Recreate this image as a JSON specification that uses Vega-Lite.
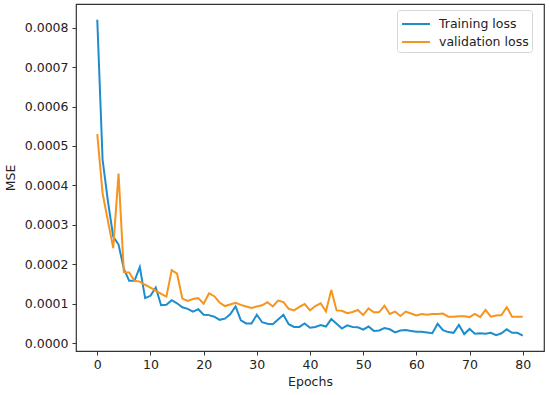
{
  "$schema": "https://vega.github.io/schema/vega-lite/v6.json",
  "width": 468,
  "height": 347,
  "autosize": {"type": "none"},
  "padding": {"left": 76, "top": 4, "right": 6, "bottom": 44},
  "background": "white",
  "config": {
    "font": "DejaVu Sans",
    "view": {"stroke": "#333333", "strokeWidth": 1.2},
    "axis": {
      "grid": false,
      "domain": false,
      "tickColor": "#333333",
      "tickSize": 4,
      "tickWidth": 1,
      "labelFontSize": 12.5,
      "labelColor": "#222222",
      "titleFontSize": 12.5,
      "titleFontWeight": "normal",
      "titleColor": "#222222"
    }
  },
  "datasets": {
    "loss": [
      {"epoch":0,"series":"Training loss","mse":8.2},{"epoch":1,"series":"Training loss","mse":4.65},{"epoch":2,"series":"Training loss","mse":3.6},{"epoch":3,"series":"Training loss","mse":2.7},{"epoch":4,"series":"Training loss","mse":2.5},{"epoch":5,"series":"Training loss","mse":1.88},{"epoch":6,"series":"Training loss","mse":1.58},{"epoch":7,"series":"Training loss","mse":1.58},{"epoch":8,"series":"Training loss","mse":1.93},{"epoch":9,"series":"Training loss","mse":1.14},{"epoch":10,"series":"Training loss","mse":1.2},{"epoch":11,"series":"Training loss","mse":1.41},{"epoch":12,"series":"Training loss","mse":0.96},{"epoch":13,"series":"Training loss","mse":0.97},{"epoch":14,"series":"Training loss","mse":1.09},{"epoch":15,"series":"Training loss","mse":1.01},{"epoch":16,"series":"Training loss","mse":0.91},{"epoch":17,"series":"Training loss","mse":0.87},{"epoch":18,"series":"Training loss","mse":0.8},{"epoch":19,"series":"Training loss","mse":0.86},{"epoch":20,"series":"Training loss","mse":0.72},{"epoch":21,"series":"Training loss","mse":0.71},{"epoch":22,"series":"Training loss","mse":0.67},{"epoch":23,"series":"Training loss","mse":0.59},{"epoch":24,"series":"Training loss","mse":0.62},{"epoch":25,"series":"Training loss","mse":0.73},{"epoch":26,"series":"Training loss","mse":0.93},{"epoch":27,"series":"Training loss","mse":0.58},{"epoch":28,"series":"Training loss","mse":0.5},{"epoch":29,"series":"Training loss","mse":0.5},{"epoch":30,"series":"Training loss","mse":0.72},{"epoch":31,"series":"Training loss","mse":0.53},{"epoch":32,"series":"Training loss","mse":0.49},{"epoch":33,"series":"Training loss","mse":0.48},{"epoch":34,"series":"Training loss","mse":0.6},{"epoch":35,"series":"Training loss","mse":0.72},{"epoch":36,"series":"Training loss","mse":0.48},{"epoch":37,"series":"Training loss","mse":0.41},{"epoch":38,"series":"Training loss","mse":0.41},{"epoch":39,"series":"Training loss","mse":0.5},{"epoch":40,"series":"Training loss","mse":0.39},{"epoch":41,"series":"Training loss","mse":0.41},{"epoch":42,"series":"Training loss","mse":0.46},{"epoch":43,"series":"Training loss","mse":0.42},{"epoch":44,"series":"Training loss","mse":0.61},{"epoch":45,"series":"Training loss","mse":0.49},{"epoch":46,"series":"Training loss","mse":0.37},{"epoch":47,"series":"Training loss","mse":0.45},{"epoch":48,"series":"Training loss","mse":0.41},{"epoch":49,"series":"Training loss","mse":0.4},{"epoch":50,"series":"Training loss","mse":0.34},{"epoch":51,"series":"Training loss","mse":0.42},{"epoch":52,"series":"Training loss","mse":0.31},{"epoch":53,"series":"Training loss","mse":0.32},{"epoch":54,"series":"Training loss","mse":0.38},{"epoch":55,"series":"Training loss","mse":0.35},{"epoch":56,"series":"Training loss","mse":0.27},{"epoch":57,"series":"Training loss","mse":0.32},{"epoch":58,"series":"Training loss","mse":0.33},{"epoch":59,"series":"Training loss","mse":0.31},{"epoch":60,"series":"Training loss","mse":0.29},{"epoch":61,"series":"Training loss","mse":0.29},{"epoch":62,"series":"Training loss","mse":0.27},{"epoch":63,"series":"Training loss","mse":0.25},{"epoch":64,"series":"Training loss","mse":0.49},{"epoch":65,"series":"Training loss","mse":0.33},{"epoch":66,"series":"Training loss","mse":0.28},{"epoch":67,"series":"Training loss","mse":0.26},{"epoch":68,"series":"Training loss","mse":0.46},{"epoch":69,"series":"Training loss","mse":0.23},{"epoch":70,"series":"Training loss","mse":0.36},{"epoch":71,"series":"Training loss","mse":0.24},{"epoch":72,"series":"Training loss","mse":0.25},{"epoch":73,"series":"Training loss","mse":0.24},{"epoch":74,"series":"Training loss","mse":0.26},{"epoch":75,"series":"Training loss","mse":0.2},{"epoch":76,"series":"Training loss","mse":0.25},{"epoch":77,"series":"Training loss","mse":0.35},{"epoch":78,"series":"Training loss","mse":0.26},{"epoch":79,"series":"Training loss","mse":0.26},{"epoch":80,"series":"Training loss","mse":0.19},
      {"epoch":0,"series":"validation loss","mse":5.3},{"epoch":1,"series":"validation loss","mse":3.8},{"epoch":2,"series":"validation loss","mse":3.1},{"epoch":3,"series":"validation loss","mse":2.41},{"epoch":4,"series":"validation loss","mse":4.3},{"epoch":5,"series":"validation loss","mse":1.8},{"epoch":6,"series":"validation loss","mse":1.79},{"epoch":7,"series":"validation loss","mse":1.58},{"epoch":8,"series":"validation loss","mse":1.56},{"epoch":9,"series":"validation loss","mse":1.48},{"epoch":10,"series":"validation loss","mse":1.41},{"epoch":11,"series":"validation loss","mse":1.33},{"epoch":12,"series":"validation loss","mse":1.25},{"epoch":13,"series":"validation loss","mse":1.18},{"epoch":14,"series":"validation loss","mse":1.85},{"epoch":15,"series":"validation loss","mse":1.76},{"epoch":16,"series":"validation loss","mse":1.13},{"epoch":17,"series":"validation loss","mse":1.07},{"epoch":18,"series":"validation loss","mse":1.12},{"epoch":19,"series":"validation loss","mse":1.14},{"epoch":20,"series":"validation loss","mse":1.0},{"epoch":21,"series":"validation loss","mse":1.26},{"epoch":22,"series":"validation loss","mse":1.19},{"epoch":23,"series":"validation loss","mse":1.03},{"epoch":24,"series":"validation loss","mse":0.94},{"epoch":25,"series":"validation loss","mse":0.98},{"epoch":26,"series":"validation loss","mse":1.02},{"epoch":27,"series":"validation loss","mse":0.97},{"epoch":28,"series":"validation loss","mse":0.93},{"epoch":29,"series":"validation loss","mse":0.89},{"epoch":30,"series":"validation loss","mse":0.93},{"epoch":31,"series":"validation loss","mse":0.96},{"epoch":32,"series":"validation loss","mse":1.04},{"epoch":33,"series":"validation loss","mse":0.93},{"epoch":34,"series":"validation loss","mse":1.08},{"epoch":35,"series":"validation loss","mse":1.04},{"epoch":36,"series":"validation loss","mse":0.87},{"epoch":37,"series":"validation loss","mse":0.83},{"epoch":38,"series":"validation loss","mse":0.92},{"epoch":39,"series":"validation loss","mse":0.99},{"epoch":40,"series":"validation loss","mse":0.83},{"epoch":41,"series":"validation loss","mse":0.94},{"epoch":42,"series":"validation loss","mse":1.01},{"epoch":43,"series":"validation loss","mse":0.8},{"epoch":44,"series":"validation loss","mse":1.35},{"epoch":45,"series":"validation loss","mse":0.83},{"epoch":46,"series":"validation loss","mse":0.82},{"epoch":47,"series":"validation loss","mse":0.76},{"epoch":48,"series":"validation loss","mse":0.79},{"epoch":49,"series":"validation loss","mse":0.84},{"epoch":50,"series":"validation loss","mse":0.71},{"epoch":51,"series":"validation loss","mse":0.88},{"epoch":52,"series":"validation loss","mse":0.78},{"epoch":53,"series":"validation loss","mse":0.78},{"epoch":54,"series":"validation loss","mse":0.95},{"epoch":55,"series":"validation loss","mse":0.74},{"epoch":56,"series":"validation loss","mse":0.8},{"epoch":57,"series":"validation loss","mse":0.69},{"epoch":58,"series":"validation loss","mse":0.8},{"epoch":59,"series":"validation loss","mse":0.75},{"epoch":60,"series":"validation loss","mse":0.7},{"epoch":61,"series":"validation loss","mse":0.74},{"epoch":62,"series":"validation loss","mse":0.72},{"epoch":63,"series":"validation loss","mse":0.74},{"epoch":64,"series":"validation loss","mse":0.74},{"epoch":65,"series":"validation loss","mse":0.75},{"epoch":66,"series":"validation loss","mse":0.67},{"epoch":67,"series":"validation loss","mse":0.67},{"epoch":68,"series":"validation loss","mse":0.68},{"epoch":69,"series":"validation loss","mse":0.68},{"epoch":70,"series":"validation loss","mse":0.66},{"epoch":71,"series":"validation loss","mse":0.74},{"epoch":72,"series":"validation loss","mse":0.66},{"epoch":73,"series":"validation loss","mse":0.84},{"epoch":74,"series":"validation loss","mse":0.67},{"epoch":75,"series":"validation loss","mse":0.7},{"epoch":76,"series":"validation loss","mse":0.71},{"epoch":77,"series":"validation loss","mse":0.91},{"epoch":78,"series":"validation loss","mse":0.67},{"epoch":79,"series":"validation loss","mse":0.67},{"epoch":80,"series":"validation loss","mse":0.67}
    ]
  },
  "data": {"name": "loss"},
  "transform": [{"calculate": "datum.mse / 10000", "as": "MSE"}],
  "mark": {"type": "line", "strokeWidth": 2, "clip": true},
  "encoding": {
    "x": {
      "field": "epoch",
      "type": "quantitative",
      "scale": {"domain": [-4, 84], "nice": false, "zero": false},
      "axis": {"title": "Epochs", "values": [0, 10, 20, 30, 40, 50, 60, 70, 80], "labelPadding": 3, "titlePadding": 5}
    },
    "y": {
      "field": "MSE",
      "type": "quantitative",
      "scale": {"domain": [-0.00002, 0.00086], "nice": false, "zero": false},
      "axis": {"title": "MSE", "format": ".4f", "values": [0, 0.0001, 0.0002, 0.0003, 0.0004, 0.0005, 0.0006, 0.0007, 0.0008], "labelPadding": 4, "titlePadding": 7}
    },
    "color": {
      "field": "series",
      "type": "nominal",
      "scale": {"domain": ["Training loss", "validation loss"], "range": ["#1f8ccc", "#f7941d"]},
      "legend": {
        "title": null,
        "orient": "none",
        "legendX": 321,
        "legendY": 6,
        "fillColor": "white",
        "strokeColor": "#d6d6d6",
        "cornerRadius": 3,
        "padding": 3,
        "symbolType": "M-1.4,0H1.4",
        "symbolOffset": 5,
        "symbolStrokeWidth": 2,
        "symbolSize": 400,
        "labelFontSize": 12.5,
        "labelColor": "#222222",
        "labelOffset": 12,
        "rowPadding": -1
      }
    }
  }
}
